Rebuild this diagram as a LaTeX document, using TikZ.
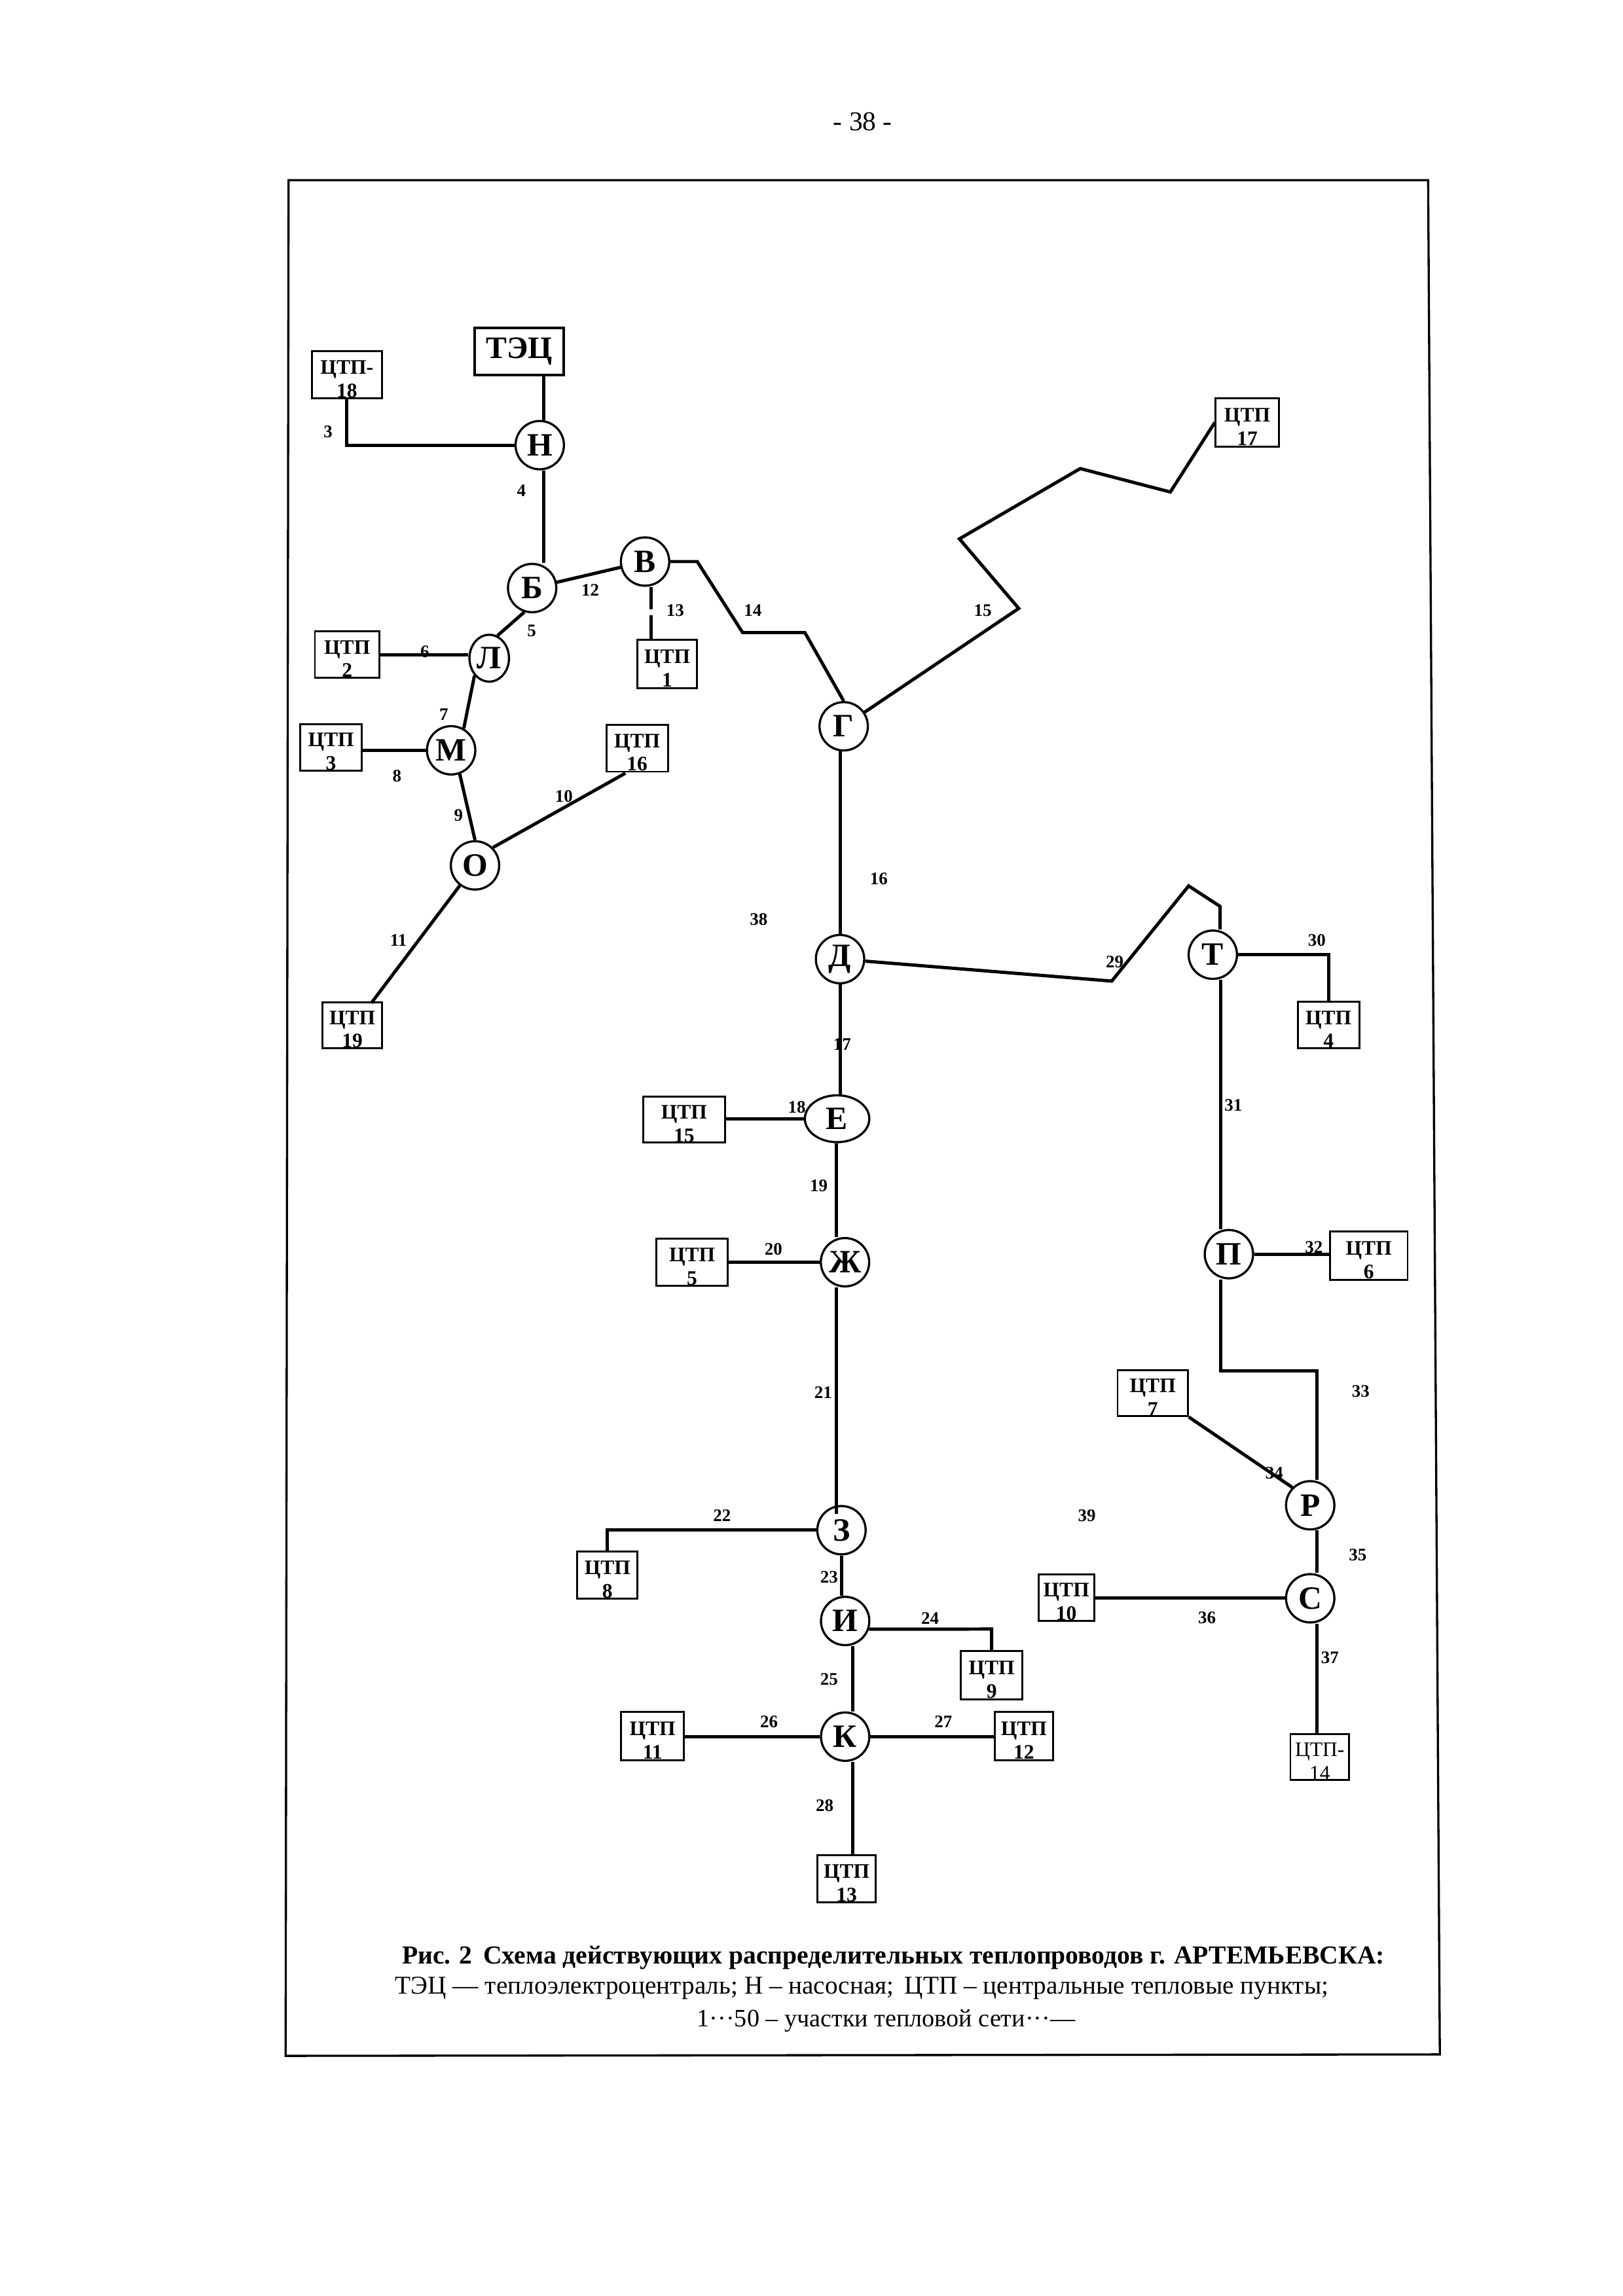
\documentclass[tikz,border=0pt]{standalone}
\usepackage{fontspec}
\setmainfont{Liberation Serif}
\usetikzlibrary{shapes.geometric}
\newcommand{\pxu}{0.018953cm}
\tikzset{
    pipe/.style={line width=1.2pt},
    station/.style={draw, line width=0.8pt, circle, minimum size=33*\pxu, inner sep=0pt, font=\fontsize{12}{12}\selectfont\bfseries},
    ctpbox/.style={draw, line width=0.7pt, inner sep=0pt, align=center, font=\fontsize{7.6}{8.6}\selectfont\bfseries},
    num/.style={font=\fontsize{6.5}{6.5}\selectfont\bfseries, inner sep=0pt},
    caption/.style={font=\fontsize{9.45}{10}\selectfont, inner sep=0pt}
}
\begin{document}
\begin{tikzpicture}[x=\pxu, y=-\pxu]
    \useasboundingbox (0,0) rectangle (1108,1568);
    \draw[line width=0.8pt] (197,123) -- (975,123) -- (983,1403) -- (195,1404) -- cycle;
    \node[caption, font=\fontsize{10}{10}\selectfont] (page) at (589,83) {- 38 -};

    \node[draw, line width=1pt, minimum width=61*\pxu, minimum height=32*\pxu, inner sep=0pt, font=\fontsize{11.5}{12}\selectfont\bfseries] (tec) at (354.5,240) {ТЭЦ};

    \foreach \name/\txt/\x/\y/\w/\h in {
        c18/ЦТП-\\18/236.8/256/48/32, c17/ЦТП\\17/851.5/288.5/43/33,
        c2/ЦТП\\2/237/447/44/32, c1/ЦТП\\1/455.5/453.5/41/33,
        c3/ЦТП\\3/226/510.4/42/32, c16/ЦТП\\16/435/511/42/32,
        c19/ЦТП\\19/240.5/700/41/30, c4/ЦТП\\4/907/700/42/32,
        c15/ЦТП\\15/467/764.5/56/31, c5/ЦТП\\5/472.5/862/49/32,
        c6/ЦТП\\6/934.5/857.5/53/33, c7/ЦТП\\7/787/951.5/48/31,
        c8/ЦТП\\8/414.7/1075.7/41/32, c10/ЦТП\\10/728/1091/38/32,
        c9/ЦТП\\9/677/1144/42/33, c11/ЦТП\\11/445.5/1185.5/43/33,
        c12/ЦТП\\12/699/1185.5/40/33, c14/\mdseries ЦТП-\\\mdseries 14/901/1200/40/28,
        c13/ЦТП\\13/578/1283/40/32}
        \node[ctpbox, minimum width=\w*\pxu, minimum height=\h*\pxu] (\name) at (\x,\y) {\rule{0pt}{8.2pt}\txt};

    \foreach \name/\txt/\x/\y in {
        n/Н/368.5/304, b/Б/363.3/401.6, v/В/440.4/383.5, m/М/308/512.4,
        g/Г/576/496, o/О/324.3/591, d/Д/573.5/655, t/Т/828/652, zh/Ж/576.9/862,
        p/П/839/856.5, r/Р/894.5/1028, z/З/574.5/1045, s/С/894.5/1091.5, i/И/577/1107, k/К/577/1186}
        \node[station] (\name) at (\x,\y) {\txt};
    \node[draw, line width=0.8pt, ellipse, minimum width=44*\pxu, minimum height=32*\pxu, inner sep=0pt, font=\fontsize{12}{12}\selectfont\bfseries] (e) at (571.5,764) {Е};
    \node[draw, line width=0.8pt, ellipse, minimum width=27*\pxu, minimum height=32*\pxu, inner sep=0pt, font=\fontsize{12}{12}\selectfont\bfseries] (l) at (334,449.5) {Л};

    \coordinate (nx) at (371,0);
    \coordinate (zx) at (571,0);
    \coordinate (kx) at (582,0);
    \coordinate (tx) at (833.5,0);
    \coordinate (rx) at (899,0);
    \coordinate (v1) at (476,383.5);
    \coordinate (v2) at (507,432);
    \coordinate (v3) at (549.5,432);
    \coordinate (g1) at (695.5,415.5);
    \coordinate (g2) at (655,368);
    \coordinate (g3) at (737.5,320);
    \coordinate (g4) at (799,336);
    \coordinate (d1) at (759,670);
    \coordinate (d2) at (811.5,605);
    \coordinate (d3) at (833,619);
    \coordinate (gap1) at (444.5,416);
    \coordinate (gap2) at (444.5,420);
    \coordinate (o16) at (427,528);
    \coordinate (o19) at (253.5,685);
    \coordinate (z1) at (571,1034);
    \coordinate (i1) at (677,1112.5);
    \coordinate (p1) at (833.5,936);
    \coordinate (p2) at (899,936);

    \draw[pipe] (tec.south -| nx) -- (n.north -| nx);
    \draw[pipe] (c18) |- (n);
    \draw[pipe] (n.south -| nx) -- (b.north -| nx);
    \draw[pipe] (b) -- (v);
    \draw[pipe] (b.-108) -- (l.70);
    \draw[pipe] (c2) -- (l.west |- c2);
    \draw[pipe] (l.south west) -- (m.60);
    \draw[pipe] (c3.east |- m) -- (m);
    \draw[pipe] (m.-70) -- (o.north);
    \draw[pipe] (o.north east) -- (o16);
    \draw[pipe] (o) -- (o19);
    \draw[pipe] (v.south -| gap1) -- (gap1) (gap2) -- (c1.north -| gap2);
    \draw[pipe] (v) -- (v1) -- (v2) -- (v3) -- (g.north);
    \draw[pipe] (g) -- (g1) -- (g2) -- (g3) -- (g4) -- (c17.west);
    \draw[pipe] (g.south -| d) -- (d.north);
    \draw[pipe] (d.south) -- (d.south |- e.north);
    \draw[pipe] (c15.east |- e) -- (e);
    \draw[pipe] (e.south -| zx) -- (zh.north -| zx);
    \draw[pipe] (c5) -- (zh);
    \draw[pipe] (zh.south -| zx) -- (z1);
    \draw[pipe] (z) -| (c8);
    \draw[pipe] (z.south) -- (z.south |- i.north);
    \draw[pipe] (i.south -| kx) -- (k.north -| kx);
    \draw[pipe] (k.south -| kx) -- (c13.north -| kx);
    \draw[pipe] (i.-19) -- (i1) -- (c9.north -| i1);
    \draw[pipe] (c11.east |- k) -- (k);
    \draw[pipe] (k) -- (c12.west |- k);
    \draw[pipe] (d) -- (d1) -- (d2) -- (d3) -- (t.north -| d3);
    \draw[pipe] (t) -| (c4);
    \draw[pipe] (t.south -| tx) -- (p.north -| tx);
    \draw[pipe] (p) -- (c6.west |- p);
    \draw[pipe] (p.south -| p1) -- (p1) -- (p2) -- (r.north -| p2);
    \draw[pipe] (c7.south east) -- (r.north west);
    \draw[pipe] (r.south -| rx) -- (s.north -| rx);
    \draw[pipe] (c10.east |- s) -- (s);
    \draw[pipe] (s.south -| rx) -- (c14.north -| rx);

    \foreach \txt/\x/\y in {
        3/224/295, 4/356/335, 5/363/431, 6/290/445, 7/303/488, 8/271/530, 9/313/557,
        10/385/544, 11/272/642, 12/403/403, 13/461/417, 14/514/417, 15/671/417,
        16/600/600, 38/518/628, 17/575/713, 18/544/756, 19/559/810, 20/528/853,
        21/562/951, 22/493/1035, 23/566/1077, 24/635/1105, 25/566/1147, 26/525/1176,
        27/644/1176, 28/563/1233, 29/761/657, 30/899/642, 31/842/755, 32/897/852,
        33/929/950, 34/870/1006, 35/927/1062, 36/824/1105, 37/908/1132, 39/742/1035}
        \node[num] (n\txt) at (\x,\y) {\txt};

    \node[caption, font=\fontsize{9.55}{10}\selectfont\bfseries] (cap1) at (610,1337) {Рис. 2\, Схема действующих распределительных теплопроводов г. АРТЕМЬЕВСКА:};
    \node[caption] (cap2) at (588.5,1358) {ТЭЦ — теплоэлектроцентраль; Н – насосная;\, ЦТП – центральные тепловые пункты;};
    \node[caption, font=\fontsize{9.2}{10}\selectfont] (cap3) at (605,1380) {1···50 – участки тепловой сети···—};
\end{tikzpicture}
\end{document}
